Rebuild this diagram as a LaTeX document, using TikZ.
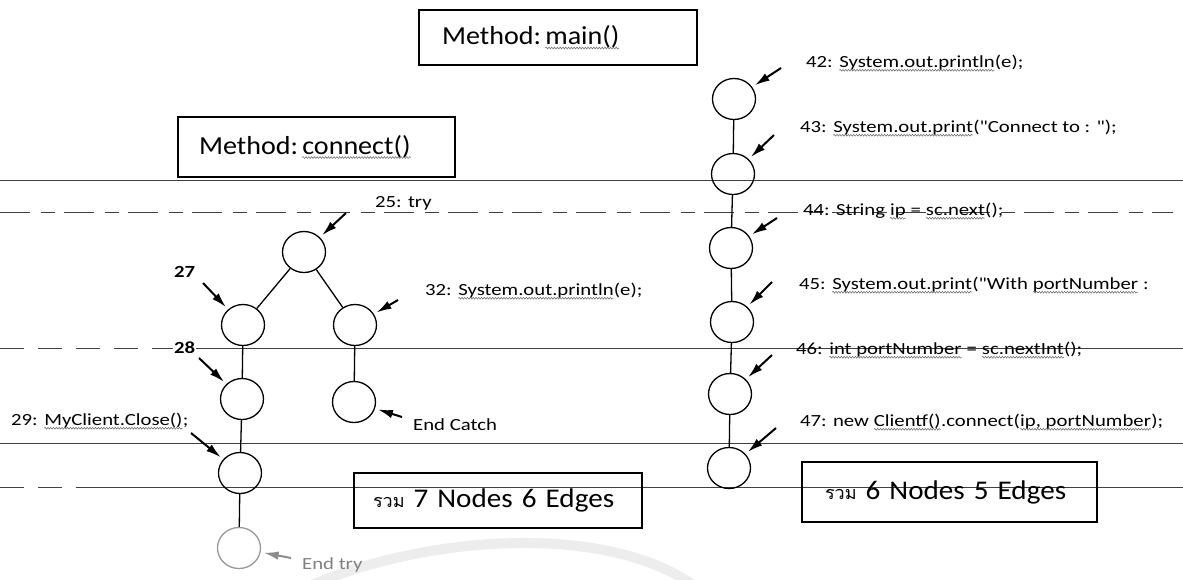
\documentclass[tikz,border=0pt]{standalone}
\usepackage{fontspec}
\setmainfont{Carlito}
\newfontfamily\codefont[FakeStretch=1.22]{Carlito}
\newfontfamily\boxfont[FakeStretch=1.08]{Carlito}
\newfontfamily\thaifont[Script=Thai]{Loma}
\usetikzlibrary{arrows.meta,shapes.geometric,decorations.pathmorphing}
\newcommand{\wv}[1]{\tikz[baseline=(wv.base)]{\node[shape=rectangle, draw=none, fill=none, inner sep=0pt, outer sep=0pt, minimum size=0pt, text width=, anchor=base west] (wv) at (0,0) {#1};
  \draw[draw=black!60, fill=none, line width=0.5pt, decorate, decoration={snake, amplitude=0.9pt, segment length=2.8pt}] ([yshift=-3.2pt]wv.base west) -- ([yshift=-3.2pt]wv.base east);}}
\tikzset{
  cnode/.style={ellipse, draw, line width=1.3pt, minimum width=43pt, minimum height=41pt, inner sep=0pt},
  gnode/.style={cnode, draw=black!40},
  edge/.style={line width=1.3pt},
  arr/.style={line width=2pt, -{Latex[length=15pt,width=8.5pt]}, shorten >=3pt},
  garr/.style={arr, draw=black!45, fill=black!45},
  code/.style={anchor=west, inner sep=0pt, font=\codefont\fontsize{17}{20}\selectfont},
  gcode/.style={code, text=black!50},
  numlab/.style={anchor=west, inner sep=0pt, font=\codefont\bfseries\fontsize{17}{20}\selectfont},
  titlebox/.style={draw, line width=1.2pt, align=left, inner ysep=0pt, font=\boxfont\fontsize{26}{30}\selectfont},
  sumbox/.style={draw, line width=1.2pt, align=left, inner ysep=0pt, font=\boxfont\fontsize{27}{30}\selectfont},
  rule/.style={draw=black!75, line width=0.9pt},
  druleA/.style={rule, dash pattern=on 30pt off 11pt on 14pt off 9pt},
  druleB/.style={rule, dash pattern=on 24pt off 14pt},
}
\newcommand{\thaiw}{{\thaifont\fontsize{18}{20}\selectfont รวม}}
\begin{document}
\begin{tikzpicture}[x=1pt,y=-1pt]
\useasboundingbox (0,0) rectangle (1183,579);
\fill[white] (0,0) rectangle (1183,579);
% faint watermark arc
\draw[black!7, line width=10pt] (300,590) .. controls (420,535) and (610,520) .. (700,590);

% ruled lines of the scanned page
\draw[rule] (0,180) -- (1183,180);
\draw[druleA] (0,212) -- (1173,212);
\draw[druleB] (0,348) -- (172,348);
\draw[rule] (172,348) -- (1183,348);
\draw[rule] (0,443) -- (1183,443);
\draw[druleB] (0,487) -- (92,487);
\draw[rule] (92,487) -- (1183,487);

% title boxes
\node[titlebox, minimum height=55pt, inner xsep=23pt, text width=232pt] (mainbox) at (558,37.5) {Method:\hspace{4pt}\wv{main()}};
\node[titlebox, minimum height=60pt, inner xsep=21pt, text width=235pt] (connbox) at (316.5,147) {Method:\hspace{4pt}\wv{connect()}};

% summary boxes
\node[sumbox, minimum height=55pt, inner xsep=19pt, text width=250pt] (sum1) at (498,500.5) {\thaiw\ 7 Nodes 6 Edges};
\node[sumbox, minimum height=60pt, inner xsep=23pt, text width=249pt] (sum2) at (949.5,492) {\thaiw\ 6 Nodes 5 Edges};

% connect() graph nodes
\node[cnode] (n25) at (304,252) {};
\node[cnode] (n27) at (243,325) {};
\node[cnode] (n32) at (355,325) {};
\node[cnode] (n28) at (242,399) {};
\node[cnode] (nec) at (354,402) {};
\node[cnode] (n29) at (240,473) {};
\node[gnode] (net) at (239,548) {};

\draw[edge] (n25) -- (n27);
\draw[edge] (n25) -- (n32);
\draw[edge] (n27) -- (n28);
\draw[edge] (n28) -- (n29);
\draw[edge] (n32) -- (nec);
\draw[edge] (n29) -- (net);

% main() graph nodes
\node[cnode] (m42) at (734,99) {};
\node[cnode] (m43) at (733,174) {};
\node[cnode] (m44) at (731,248) {};
\node[cnode] (m45) at (732,322) {};
\node[cnode] (m46) at (730,394) {};
\node[cnode] (m47) at (729,468) {};

\draw[edge] (m42) -- (m43);
\draw[edge] (m43) -- (m44);
\draw[edge] (m44) -- (m45);
\draw[edge] (m45) -- (m46);
\draw[edge] (m46) -- (m47);

% arrow tails
\coordinate (t25) at (346,213);
\coordinate (t27) at (203,283);
\coordinate (t32) at (398,300);
\coordinate (t28) at (199,358);
\coordinate (tec) at (402,417);
\coordinate (t29) at (191,433);
\coordinate (tet) at (291,558);
\coordinate (t42) at (781,68);
\coordinate (t43) at (774,135);
\coordinate (t44) at (777,218);
\coordinate (t45) at (772,282);
\coordinate (t46) at (772,355);
\coordinate (t47) at (776,428);

\draw[arr] (t25) -- (n25);
\draw[arr] (t27) -- (n27);
\draw[arr] (t32) -- (n32);
\draw[arr] (t28) -- (n28);
\draw[arr] (tec) -- (nec);
\draw[arr] (t29) -- (n29);
\draw[garr] (tet) -- (net);
\draw[arr] (t42) -- (m42);
\draw[arr] (t43) -- (m43);
\draw[arr] (t44) -- (m44);
\draw[arr] (t45) -- (m45);
\draw[arr] (t46) -- (m46);
\draw[arr] (t47) -- (m47);

% labels (connect)
\node[code] (l25) at (375,203) {25: try};
\node[numlab] (l27) at (174,272) {27};
\node[code] (l32) at (425,291) {32: \wv{System.out.println}(e);};
\node[numlab, fill=white, inner xsep=1pt] (l28) at (173,348) {28};
\node[code] (l29) at (11,421) {29: \wv{MyClient.Close()};};
\node[code] (lec) at (413,425) {End Catch};
\node[gcode] (let) at (302,565) {End try};

% labels (main)
\node[code] (l42) at (806,63) {42: \wv{System.out.println}(e);};
\node[code] (l43) at (800,128) {43: \wv{System.out.print}("Connect to : ");};
\node[code] (l44) at (803,211) {44: String \wv{ip} = \wv{sc.next}();};
\node[code] (l45) at (799,285) {45: \wv{System.out.print}("With \wv{portNumber} :};
\node[code] (l46) at (796,350) {46: \wv{int portNumber} = \wv{sc.nextInt}();};
\node[code] (l47) at (800,422) {47: new \wv{Clientf()}.connect(\wv{ip, portNumber});};
\end{tikzpicture}
\end{document}
